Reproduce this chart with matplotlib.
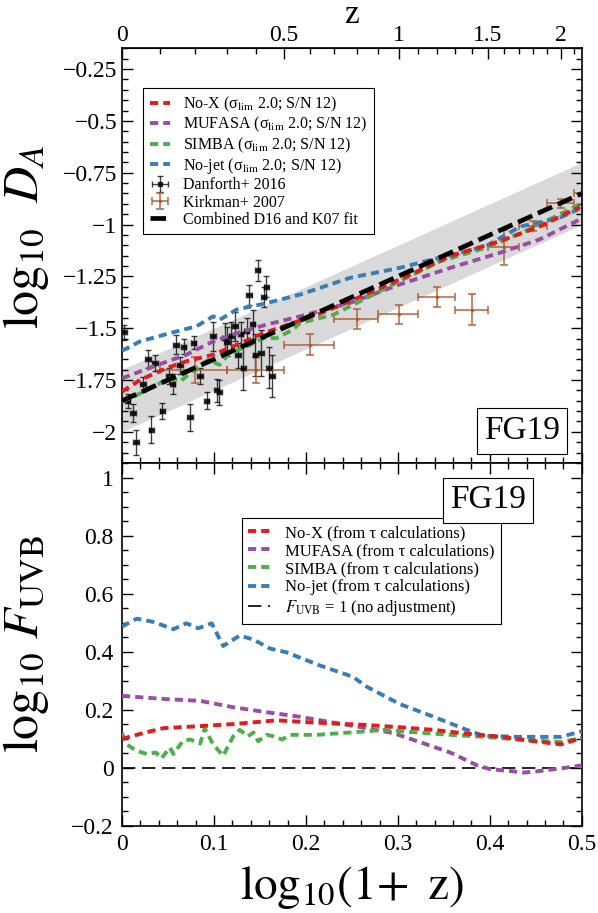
import numpy as np
import matplotlib
matplotlib.use("Agg")
import matplotlib.pyplot as plt
from matplotlib.ticker import MultipleLocator, FixedLocator, FuncFormatter

plt.rcParams["font.family"] = ["Liberation Serif", "DejaVu Serif"]
plt.rcParams["mathtext.fontset"] = "stix"

# ---------------- data ----------------
# Danforth+ 2016 : log10(1+z), log10 D_A, 1-sigma error
dan_logz = [0.002, 0.006, 0.012, 0.015, 0.023, 0.028, 0.032, 0.036, 0.044, 0.051,
            0.055, 0.059, 0.063, 0.067, 0.074, 0.078, 0.085, 0.092, 0.099, 0.103,
            0.106, 0.112, 0.114, 0.119, 0.123, 0.126, 0.129, 0.132, 0.1355, 0.138,
            0.142, 0.145, 0.1475, 0.151, 0.154, 0.157, 0.160, 0.163]
dan_logDA = [-1.52, -1.85, -1.91, -2.05, -1.77, -1.65, -1.99, -1.67, -1.90, -1.73,
             -1.77, -1.58, -1.68, -1.59, -1.93, -1.57, -1.73, -1.85, -1.54, -1.80,
             -1.81, -1.545, -1.565, -1.54, -1.49, -1.63, -1.53, -1.69, -1.515, -1.34,
             -1.48, -1.63, -1.22, -1.62, -1.35, -1.30, -1.69, -1.73]
dan_err = [0.035, 0.033, 0.045, 0.06, 0.036, 0.044, 0.065, 0.039, 0.04, 0.04,
           0.05, 0.047, 0.04, 0.036, 0.065, 0.03, 0.04, 0.04, 0.07, 0.057,
           0.06, 0.07, 0.07, 0.07, 0.07, 0.06, 0.06, 0.11, 0.065, 0.05,
           0.07, 0.10, 0.05, 0.11, 0.05, 0.05, 0.10, 0.10]

# Kirkman+ 2007 : redshift bin centres (bins of width 0.2), log10 D_A, error
kirk_z = [0.2, 0.4, 0.6, 0.8, 1.0, 1.2, 1.4, 1.6, 1.8, 2.0, 2.2]
kirk_halfwidth = 0.1
kirk_logDA = [-1.70, -1.70, -1.58, -1.456, -1.433, -1.35, -1.41, -1.109, -1.007, -0.897, -0.85]
kirk_err = [0.063, 0.063, 0.05, 0.05, 0.045, 0.047, 0.077, 0.085, 0.024, 0.022, 0.016]

# Combined D16 + K07 fit: log10 D_A = a + b log10(1+z), with scatter band
fit_a, fit_b, fit_band = -1.85, 2.0, 0.15

# Simulated log10 D_A curves (sigma_lim 2.0; S/N 12)
nox_x = [0.0, 0.0196, 0.048, 0.070, 0.099, 0.125, 0.154, 0.186, 0.215, 0.248, 0.302, 0.357, 0.411, 0.454, 0.498]
nox_y = [-1.806, -1.75, -1.693, -1.66, -1.628, -1.58, -1.524, -1.475, -1.43, -1.37, -1.265, -1.152, -1.08, -1.01, -0.915]

muf_x = [0.0, 0.034, 0.070, 0.099, 0.125, 0.157, 0.1935, 0.248, 0.302, 0.357, 0.411, 0.454, 0.498]
muf_y = [-1.742, -1.685, -1.628, -1.564, -1.524, -1.483, -1.443, -1.378, -1.289, -1.209, -1.136, -1.072, -0.975]

sim_x = [0.0, 0.020, 0.041, 0.052, 0.063, 0.085, 0.094, 0.106, 0.117, 0.136, 0.154, 0.168, 0.186,
         0.1935, 0.230, 0.266, 0.302, 0.346, 0.396, 0.447, 0.498]
sim_y = [-1.855, -1.814, -1.766, -1.741, -1.758, -1.677, -1.653, -1.677, -1.62, -1.588, -1.548, -1.548, -1.507,
         -1.475, -1.435, -1.354, -1.273, -1.177, -1.112, -1.015, -0.902]

njet_x = [0.0, 0.0196, 0.052, 0.081, 0.099, 0.1065, 0.1247, 0.1536, 0.1935, 0.248, 0.302, 0.338, 0.375,
          0.396, 0.433, 0.476, 0.4997]
njet_y = [-1.609, -1.564, -1.524, -1.491, -1.443, -1.459, -1.41, -1.383, -1.338, -1.257, -1.209, -1.168, -1.128,
          -1.104, -1.01, -0.967, -0.919]

# log10 F_UVB from tau calculations
fnox_x = [0.0, 0.023, 0.045, 0.085, 0.121, 0.168, 0.194, 0.230, 0.266, 0.303, 0.339, 0.375, 0.412, 0.448, 0.477, 0.5]
fnox_y = [0.10, 0.12, 0.137, 0.144, 0.151, 0.164, 0.159, 0.153, 0.148, 0.14, 0.131, 0.118, 0.107, 0.092, 0.081, 0.103]

fmuf_x = [0.0, 0.048, 0.085, 0.121, 0.157, 0.194, 0.230, 0.266, 0.295, 0.321, 0.357, 0.386, 0.40, 0.423,
          0.437, 0.459, 0.481, 0.5]
fmuf_y = [0.248, 0.237, 0.231, 0.209, 0.192, 0.176, 0.156, 0.137, 0.12, 0.092, 0.053, 0.009, -0.004, -0.011,
          -0.016, -0.009, 0.0, 0.009]

fsim_x = [0.0, 0.005, 0.016, 0.027, 0.037, 0.043, 0.052, 0.056, 0.066, 0.074, 0.085, 0.090, 0.099, 0.110,
          0.121, 0.128, 0.137, 0.143, 0.148, 0.157, 0.165, 0.174, 0.183, 0.212, 0.248, 0.285, 0.321, 0.357,
          0.394, 0.430, 0.477, 0.5]
fsim_y = [0.12, 0.081, 0.059, 0.048, 0.053, 0.033, 0.07, 0.048, 0.092, 0.098, 0.084, 0.137, 0.081, 0.042,
          0.109, 0.131, 0.109, 0.122, 0.092, 0.114, 0.109, 0.098, 0.114, 0.114, 0.122, 0.131, 0.122, 0.114,
          0.107, 0.098, 0.089, 0.103]

fnjet_x = [0.0, 0.016, 0.034, 0.056, 0.070, 0.083, 0.0975, 0.110, 0.128, 0.143, 0.161, 0.179, 0.215, 0.251,
           0.266, 0.302, 0.339, 0.375, 0.393, 0.43, 0.477, 0.5]
fnjet_y = [0.487, 0.514, 0.503, 0.478, 0.498, 0.481, 0.498, 0.42, 0.456, 0.442, 0.411, 0.398, 0.353, 0.314,
           0.28, 0.22, 0.176, 0.131, 0.111, 0.107, 0.107, 0.126]

# ---------------- styling ----------------
RED, PURPLE, GREEN, BLUE = "#e41a1c", "#984ea3", "#4daf4a", "#377eb8"
KCOL = "#b0582e"
sim_dash = (2.1, 1.3)
sim_lw = 2.8
TICK_FS = 17
LABEL_FS = 36


def num_fmt(v, pos):
    s = "%g" % round(v, 4)
    if s == "-0":
        s = "0"
    return s.replace("-", "\u2212")


fig = plt.figure(figsize=(5.98, 9.13), dpi=100)
ax1 = fig.add_axes([0.204, 0.493, 0.769, 0.454])
ax2 = fig.add_axes([0.204, 0.0953, 0.769, 0.3975])

# ---------- top panel: D_A ----------
xf = np.array([0.0, 0.5])
yf = fit_a + fit_b * xf
ax1.fill_between(xf, yf - fit_band, yf + fit_band, color="#d9d9d9", lw=0, zorder=1)

h_nox, = ax1.plot(nox_x, nox_y, color=RED, lw=sim_lw, dashes=sim_dash, zorder=5,
                  label=r"No-X (σ$_{\rm lim}$ 2.0; S/N 12)")
h_muf, = ax1.plot(muf_x, muf_y, color=PURPLE, lw=sim_lw, dashes=sim_dash, zorder=4,
                  label=r"MUFASA (σ$_{\rm lim}$ 2.0; S/N 12)")
h_sim, = ax1.plot(sim_x, sim_y, color=GREEN, lw=sim_lw, dashes=sim_dash, zorder=4,
                  label=r"SIMBA (σ$_{\rm lim}$ 2.0; S/N 12)")
h_njet, = ax1.plot(njet_x, njet_y, color=BLUE, lw=sim_lw, dashes=sim_dash, zorder=4,
                   label=r"No-jet (σ$_{\rm lim}$ 2.0; S/N 12)")

h_dan = ax1.errorbar(dan_logz, dan_logDA, yerr=dan_err, xerr=0.003, fmt="s", ms=2.8,
                     color="k", ecolor="k", elinewidth=1.0, capsize=2.5, capthick=1.0,
                     alpha=0.75, zorder=3, label="Danforth+ 2016")

kz = np.array(kirk_z)
kx = np.log10(1 + kz)
kxlo = kx - np.log10(1 + kz - kirk_halfwidth)
kxhi = np.log10(1 + kz + kirk_halfwidth) - kx
h_kirk = ax1.errorbar(kx, kirk_logDA, yerr=kirk_err, xerr=[kxlo, kxhi], fmt=".", ms=3,
                      color=KCOL, ecolor=KCOL, elinewidth=1.2, capsize=3, capthick=1.2,
                      alpha=0.85, zorder=3, label="Kirkman+ 2007")

h_fit, = ax1.plot(xf, yf, color="k", lw=3.4, dashes=(3.3, 1.3), zorder=6,
                  label="Combined D16 and K07 fit")

ax1.set_xlim(0, 0.5)
ax1.set_ylim(-2.15, -0.15)
ax1.yaxis.set_major_locator(MultipleLocator(0.25))
ax1.yaxis.set_minor_locator(MultipleLocator(0.05))
ax1.xaxis.set_major_locator(MultipleLocator(0.1))
ax1.xaxis.set_minor_locator(MultipleLocator(0.02))
ax1.yaxis.set_major_formatter(FuncFormatter(num_fmt))
ax1.tick_params(which="both", direction="in", top=False, right=True, labelbottom=False,
                labelsize=TICK_FS, width=1.0)
ax1.tick_params(which="major", length=8)
ax1.tick_params(which="minor", length=4)
ax1.set_ylabel(r"$\mathrm{log_{10}}\ \ D_{A}$", fontsize=LABEL_FS)
ax1.yaxis.set_label_coords(-0.155, 0.545)

secax = ax1.secondary_xaxis("top", functions=(lambda x: 10 ** x - 1, lambda z: np.log10(1 + z)))
secax.set_xticks([0, 0.5, 1, 1.5, 2])
secax.set_xticklabels(["0", "0.5", "1", "1.5", "2"])
secax.xaxis.set_minor_locator(FixedLocator(np.round(np.arange(0, 2.2, 0.1), 2)))
secax.tick_params(which="both", direction="in", labelsize=TICK_FS, width=1.0, pad=2)
secax.tick_params(which="major", length=8)
secax.tick_params(which="minor", length=4)
secax.set_xlabel("z", fontsize=24, labelpad=1)

handles = [h_nox, h_muf, h_sim, h_njet, h_dan, h_kirk, h_fit]
leg1 = ax1.legend(handles, [h.get_label() for h in handles],
                  loc="upper left", bbox_to_anchor=(0.046, 0.904), borderaxespad=0,
                  fontsize=11.5, handlelength=1.3, handletextpad=0.8, labelspacing=0.08,
                  fancybox=False, edgecolor="k", framealpha=1, borderpad=0.4)
leg1.get_frame().set_linewidth(0.8)

ax1.text(0.87, 0.077, "FG19", transform=ax1.transAxes, fontsize=24, ha="center", va="center",
         bbox=dict(boxstyle="square,pad=0.22", fc="white", ec="k", lw=0.8), zorder=10)

# ---------- bottom panel: F_UVB ----------
ax2.plot(fnox_x, fnox_y, color=RED, lw=sim_lw, dashes=sim_dash, zorder=5,
         label=r"No-X (from τ calculations)")
ax2.plot(fmuf_x, fmuf_y, color=PURPLE, lw=sim_lw, dashes=sim_dash, zorder=4,
         label=r"MUFASA (from τ calculations)")
ax2.plot(fsim_x, fsim_y, color=GREEN, lw=sim_lw, dashes=sim_dash, zorder=4,
         label=r"SIMBA (from τ calculations)")
ax2.plot(fnjet_x, fnjet_y, color=BLUE, lw=sim_lw, dashes=sim_dash, zorder=4,
         label=r"No-jet (from τ calculations)")
ax2.plot([0, 0.5], [0, 0], color="k", lw=1.2, dashes=(8, 4), zorder=3,
         label=r"$F_{\rm UVB}$ = 1 (no adjustment)")

ax2.set_xlim(0, 0.5)
ax2.set_ylim(-0.2, 1.05)
ax2.yaxis.set_major_locator(MultipleLocator(0.2))
ax2.yaxis.set_minor_locator(MultipleLocator(0.05))
ax2.xaxis.set_major_locator(MultipleLocator(0.1))
ax2.xaxis.set_minor_locator(MultipleLocator(0.02))
ax2.yaxis.set_major_formatter(FuncFormatter(num_fmt))
ax2.xaxis.set_major_formatter(FuncFormatter(num_fmt))
ax2.tick_params(which="both", direction="in", top=True, right=True, labelsize=TICK_FS, width=1.0)
ax2.tick_params(which="major", length=8, pad=6)
ax2.tick_params(which="minor", length=4)
ax2.set_ylabel(r"$\mathrm{log_{10}}\ F_{\rm UVB}$", fontsize=LABEL_FS)
ax2.yaxis.set_label_coords(-0.155, 0.5)
ax2.set_xlabel(r"$\mathrm{log_{10}(1\!+\ z)}$", fontsize=34, labelpad=6)

leg2 = ax2.legend(loc="upper left", bbox_to_anchor=(0.26, 0.848), borderaxespad=0,
                  fontsize=12, handlelength=1.3, handletextpad=0.9, labelspacing=0.13,
                  fancybox=False, edgecolor="k", framealpha=1, borderpad=0.4)
leg2.get_frame().set_linewidth(0.8)

ax2.text(0.796, 0.898, "FG19", transform=ax2.transAxes, fontsize=24, ha="center", va="center",
         bbox=dict(boxstyle="square,pad=0.22", fc="white", ec="k", lw=0.8), zorder=10)

for ax in (ax1, ax2):
    for sp in ax.spines.values():
        sp.set_linewidth(1.2)

fig.savefig("out.png", dpi=100)
